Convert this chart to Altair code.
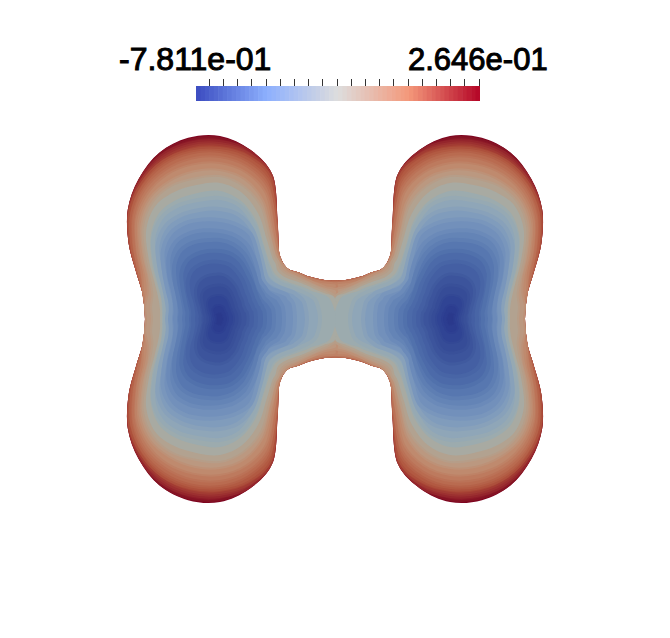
import math
import altair as alt
import pandas as pd

# ---- scalar bar ----
bar_labels = ["-7.811e-01", "2.646e-01"]
label_x = [119, 408]
label_y = [70, 70]
label_size = [32, 31]
tick_x = [209.5, 223.5, 237.5, 251.5, 266.5, 280.5, 294.5, 308.5, 322.5, 337.5,
          351.5, 365.5, 379.5, 393.5, 408.5, 422.5, 436.5, 450.5, 464.5, 479.5]
bar_edges = [196 + i * 4.4375 for i in range(65)]
bar_stops = [0.0, 0.25, 0.5, 0.75, 1.0]
bar_colors = ["#3b4cc0", "#8db0fe", "#dddddd", "#f4987a", "#b40426"]

# ---- scalar field: iso-contours ----
core_x, core_y = 450, 319
mirror_x, mirror_y = 335, 319
ray_angles = [0, 10, 20, 30, 40, 50, 60, 70, 80, 90, 100, 110, 120, 130,
              135, 140, 145, 150, 155, 160, 163, 166, 170, 180]

level_colors = ["#7e0520", "#8d1a28", "#9c3030", "#a94636", "#b25a42", "#b96b50", "#bd7a5e", "#bf8a6e",
                "#bb9880", "#b2a290", "#a8aaa2", "#9cabae", "#8fa6b8", "#809cbc", "#7290bb", "#6484b6",
                "#5777b0", "#4c6aa9", "#445fa3", "#3c549c", "#364c97", "#304494", "#2c3d90", "#2a398c"]
edge_colors = ["#7e0520", "#851324", "#94252c", "#a23b33", "#ad503c", "#b56249", "#bb7257", "#be8266",
               "#bd9177", "#b69d88", "#ada699", "#a2aba8", "#96a9b3", "#88a1ba", "#7996bc", "#6b8ab9",
               "#5e7eb3", "#5171ac", "#4865a6", "#405a9f", "#395099", "#334895", "#2e4092", "#2b3b8e"]
edge_widths = [0, 2, 2, 2, 2, 2, 2, 2, 2, 2, 0, 0, 4, 4, 4, 4, 4, 4, 4, 3, 3, 2, 2, 1]

level_radii = [
    [75, 77, 83, 97, 119, 143, 162, 177, 184, 183, 172, 153, 114, 91, 86, 84, 85.4, 92, 99, 112, 126.5, 120, 118, 116],
    [74, 76, 82, 96, 118, 142, 161, 176, 182, 181, 171, 152, 113, 90, 85, 83, 84.4, 91, 98, 111, 125.5, 120, 118, 116],
    [74, 76, 82, 96, 118, 142, 161, 174, 179, 178, 171, 152, 113, 90, 85, 83, 84.4, 91, 98, 111, 125.5, 120, 118, 116],
    [74, 76, 82, 96, 118, 142, 159, 170, 175, 174, 168, 152, 113, 90, 85, 83, 84.4, 91, 98, 111, 125.5, 120, 118, 116],
    [74, 76, 82, 96, 118, 141, 157, 168, 172, 171, 165, 150, 113, 90, 85, 83, 84.4, 91, 98, 111, 125.5, 120, 118, 116],
    [74, 76, 82, 96, 116, 138, 154, 164, 168, 167, 160, 145, 113, 90, 85, 83, 84.4, 91, 98, 111, 125.5, 120, 118, 116],
    [74, 76, 82, 94, 112, 134, 150, 159, 163, 162, 155, 140, 111, 90, 85, 83, 84.4, 91, 98, 111, 125.5, 120, 118, 116],
    [74, 76, 82, 90, 108, 130, 145, 154, 157, 156, 149, 134, 107, 90, 85, 83, 84.4, 91, 97, 108, 121, 120, 118, 116],
    [74, 76, 77, 85, 103, 125, 140, 147, 150, 149, 142, 126, 102, 87.5, 84, 83, 84, 89, 95, 103, 110, 120, 118, 116],
    [68, 70, 72, 81, 98, 120, 135, 142, 143, 143, 135, 120, 98, 84.5, 82, 79, 80, 85, 91, 99, 105, 112, 118, 116],
    [60, 61, 66, 76, 93, 115, 130, 135, 136, 136, 128, 112, 93, 81, 78.5, 75, 76, 80, 87, 95, 100, 107, 117, 116],
    [58, 59, 63, 73, 89, 108, 122, 127, 128, 128, 120, 105, 87, 76, 73, 71, 72, 76, 82, 91, 96, 104, 112, 116],
    [55, 56, 60, 69, 84, 104, 117, 121, 121, 121, 115, 100, 83, 72, 69, 67, 68, 71, 77, 84, 89, 94, 98, 100],
    [53, 53, 57, 65, 79, 97, 108, 111, 111, 110, 106, 95, 79, 68, 64, 62, 63, 66, 71, 78, 81, 84, 86, 87],
    [50, 50, 53, 61, 73, 89, 99, 102, 101, 99, 96, 90, 75, 64, 60, 58, 58, 60, 65, 71, 72, 74, 75, 75],
    [45, 45, 48, 54, 66, 80, 89, 91, 90, 88, 85, 79, 69, 60, 56, 55, 55, 55, 57, 61, 62, 63, 64, 64],
    [40, 40, 43, 49, 59, 71, 79, 81, 80, 79, 76, 70, 62, 55, 52, 50, 49, 49, 49, 51, 52, 53, 54, 54],
    [33, 33, 36, 41, 49, 60, 67, 69, 69, 68, 66, 61, 54, 49, 47, 45, 44, 43, 43, 43, 44, 44, 45, 45],
    [27, 27, 29, 33, 41, 50, 56, 58, 58, 57, 55, 50, 45, 40, 38, 37, 36, 35, 35, 35, 35, 36, 36, 36],
    [20, 20, 22, 25, 31, 38, 43, 45, 45, 45, 43, 39, 35, 31, 30, 29, 28, 27, 27, 27, 27, 28, 28, 28],
    [15, 15, 17, 19, 23, 29, 33, 34, 34, 34, 33, 30, 26, 23, 22, 21, 20, 20, 20, 20, 20, 20, 20, 20],
    [10, 10, 11, 13, 16, 20, 23, 24, 24, 24, 23, 21, 18, 16, 15, 15, 14, 14, 14, 14, 14, 14, 14, 14],
    [6, 6, 7, 8, 9, 12, 13, 14, 14, 14, 13, 12, 10, 9, 9, 9, 8, 8, 8, 8, 8, 8, 8, 8],
    [3, 3, 3, 4, 4, 6, 6, 6, 6, 6, 6, 5, 4, 4, 3, 3, 3, 3, 3, 3, 3, 3, 3, 3],
]

# Build the closed iso-polygons of both lobes (the field has two mirror axes).
rows = []
for lev, radii in enumerate(level_radii):
    upper = [(core_x + r * math.cos(math.radians(a)), core_y - r * math.sin(math.radians(a)))
             for a, r in zip(ray_angles, radii)]
    lower = [(x, 2 * mirror_y - y) for x, y in upper[-2:0:-1]]
    ring = upper + lower
    for side in ("R", "L"):
        for i, (x, y) in enumerate(ring):
            rows.append({
                "poly": f"{lev:02d}{side}",
                "i": i,
                "x": x if side == "R" else 2 * mirror_x - x,
                "y": y,
                "c": level_colors[lev],
                "e": edge_colors[lev],
                "w": edge_widths[lev],
            })
field_df = pd.DataFrame(rows)

x_scale = alt.Scale(domain=[8, 662], nice=False, zero=False)
y_scale = alt.Scale(domain=[630, 8], nice=False, zero=False)
X = lambda f="x": alt.X(f, type="quantitative", scale=x_scale, axis=None)
Y = lambda f="y": alt.Y(f, type="quantitative", scale=y_scale, axis=None)

field = alt.Chart(field_df).mark_line(filled=True, interpolate="cardinal-closed").encode(
    x=X(), y=Y(),
    detail="poly:N",
    order="i:Q",
    color=alt.Color("c:N", scale=None),
    stroke=alt.Stroke("e:N", scale=None),
    strokeWidth=alt.StrokeWidth("w:Q", scale=None),
)

bar_df = pd.DataFrame({
    "x0": bar_edges[:-1],
    "x1": [e + 0.6 for e in bar_edges[1:-1]] + [bar_edges[-1]],
    "t": [(i + 0.5) / 64 for i in range(64)],
    "y0": [86] * 64,
    "y1": [101] * 64,
})
bar = alt.Chart(bar_df).mark_rect(strokeWidth=0).encode(
    x=X("x0"), x2="x1:Q", y=Y("y0"), y2="y1:Q",
    color=alt.Color("t:Q", legend=None,
                    scale=alt.Scale(domain=bar_stops, range=bar_colors, interpolate="rgb")),
)

tick_df = pd.DataFrame({"x": tick_x, "y0": [79] * len(tick_x), "y1": [86] * len(tick_x)})
ticks = alt.Chart(tick_df).mark_rule(color="#333333", strokeWidth=1).encode(
    x=X(), y=Y("y0"), y2="y1:Q",
)

text_df = pd.DataFrame({"x": label_x, "y": label_y, "t": bar_labels, "s": label_size})
labels = alt.Chart(text_df).mark_text(
    font="Liberation Sans", align="left", baseline="alphabetic",
    color="black", stroke="black", strokeWidth=1.0,
).encode(x=X(), y=Y(), text="t:N", size=alt.Size("s:Q", scale=None))

chart = (
    alt.layer(field, bar, ticks, labels)
    .resolve_scale(color="independent")
    .properties(width=654, height=622, padding=0)
    .configure_view(strokeWidth=0)
)

chart.save("out.html", embed_options={"renderer": "svg", "actions": False})
